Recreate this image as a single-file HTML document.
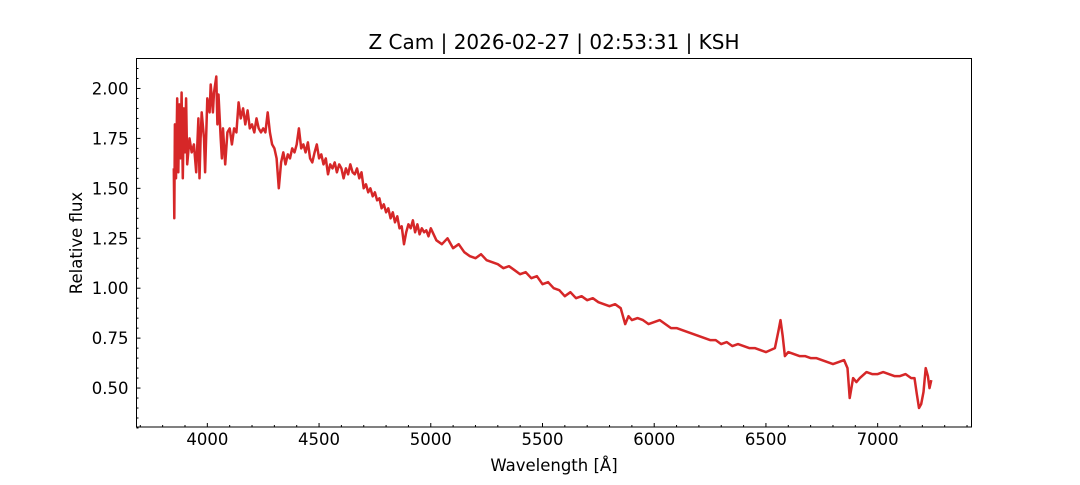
<!DOCTYPE html>
<html><head><meta charset="utf-8">
<style>
body{margin:0;background:#fff;}
svg text{font-family:"DejaVu Sans","Liberation Sans",sans-serif;fill:#000;}
</style></head>
<body>
<svg id="chart" width="1080" height="480" xmlns="http://www.w3.org/2000/svg">
<text x="554" y="49" font-size="20" text-anchor="middle">Z Cam | 2026-02-27 | 02:53:31 | KSH</text>
<g id="axes"></g>
<path id="line" fill="none" stroke="#d62728" stroke-width="2.5" stroke-linejoin="round"></path>
<rect x="136.5" y="58.5" width="835" height="368.5" fill="none" stroke="#000" stroke-width="1"/>
<text x="554" y="471" font-size="16.5" text-anchor="middle">Wavelength [Å]</text>
<text transform="translate(82,243) rotate(-90)" font-size="16.5" text-anchor="middle">Relative flux</text>
</svg>
<script>
const wavelengths=[3850,3852,3855,3860,3865,3870,3875,3880,3885,3890,3895,3900,3905,3910,3920,3930,3940,3950,3960,3965,3970,3975,3985,3990,4000,4010,4015,4025,4030,4040,4045,4050,4060,4065,4070,4080,4090,4100,4110,4120,4130,4140,4150,4160,4170,4180,4190,4200,4210,4220,4230,4240,4250,4260,4270,4280,4290,4300,4310,4320,4330,4340,4350,4360,4370,4380,4390,4400,4410,4420,4430,4440,4450,4460,4470,4480,4490,4500,4510,4520,4530,4540,4550,4560,4570,4580,4590,4600,4610,4620,4630,4640,4650,4660,4670,4680,4690,4700,4710,4720,4730,4740,4750,4760,4770,4780,4790,4800,4810,4820,4830,4840,4850,4860,4870,4880,4890,4900,4910,4920,4930,4940,4950,4960,4970,4980,4990,5000,5025,5050,5075,5100,5125,5150,5175,5200,5225,5250,5275,5300,5325,5350,5375,5400,5425,5450,5475,5500,5525,5550,5575,5600,5625,5650,5675,5700,5725,5750,5775,5800,5825,5850,5870,5885,5900,5925,5950,5975,6000,6025,6050,6075,6100,6125,6150,6175,6200,6225,6250,6275,6300,6325,6350,6375,6400,6425,6450,6475,6500,6520,6540,6555,6565,6575,6585,6600,6625,6650,6675,6700,6725,6750,6775,6800,6825,6850,6865,6875,6890,6905,6920,6950,6975,7000,7025,7050,7075,7100,7125,7150,7165,7175,7185,7195,7205,7215,7225,7232,7240];
const fluxes=[1.60,1.35,1.82,1.55,1.95,1.58,1.92,1.65,1.98,1.55,1.90,1.68,1.95,1.62,1.75,1.68,1.72,1.58,1.85,1.55,1.75,1.88,1.75,1.58,1.95,1.88,2.02,1.88,1.98,2.06,1.82,1.97,1.75,1.65,1.80,1.62,1.78,1.80,1.72,1.80,1.78,1.93,1.85,1.90,1.82,1.89,1.80,1.82,1.78,1.85,1.80,1.78,1.80,1.78,1.88,1.78,1.72,1.70,1.65,1.50,1.63,1.68,1.62,1.67,1.65,1.70,1.68,1.72,1.80,1.70,1.72,1.68,1.73,1.65,1.63,1.68,1.72,1.65,1.67,1.62,1.65,1.57,1.62,1.60,1.63,1.58,1.62,1.60,1.55,1.60,1.57,1.62,1.58,1.57,1.60,1.55,1.58,1.50,1.52,1.48,1.50,1.46,1.48,1.44,1.45,1.40,1.42,1.38,1.40,1.35,1.38,1.33,1.36,1.30,1.31,1.22,1.28,1.32,1.30,1.34,1.28,1.32,1.27,1.30,1.28,1.29,1.26,1.30,1.24,1.22,1.25,1.20,1.22,1.18,1.16,1.15,1.17,1.14,1.13,1.12,1.10,1.11,1.09,1.07,1.08,1.05,1.06,1.02,1.03,1.00,0.99,0.96,0.98,0.95,0.96,0.94,0.95,0.93,0.92,0.91,0.92,0.90,0.82,0.86,0.84,0.85,0.84,0.82,0.83,0.84,0.82,0.80,0.80,0.79,0.78,0.77,0.76,0.75,0.74,0.74,0.72,0.73,0.71,0.72,0.71,0.70,0.70,0.69,0.68,0.69,0.70,0.78,0.84,0.76,0.66,0.68,0.67,0.66,0.66,0.65,0.65,0.64,0.63,0.62,0.63,0.64,0.60,0.45,0.55,0.53,0.55,0.58,0.57,0.57,0.58,0.57,0.56,0.56,0.57,0.55,0.55,0.47,0.40,0.42,0.48,0.60,0.56,0.50,0.54];
const xTicks=[4000,4500,5000,5500,6000,6500,7000];
const yTicks=[0.50,0.75,1.00,1.25,1.50,1.75,2.00];
const X0=136.5,X1=971.5,Y0=58.5,Y1=427;
const xmin=3683,xmax=7420,ymin=0.305,ymax=2.15;
const xs=v=>X0+(v-xmin)/(xmax-xmin)*(X1-X0);
const ys=v=>Y1-(v-ymin)/(ymax-ymin)*(Y1-Y0);
const NS="http://www.w3.org/2000/svg";
const axes=document.getElementById('axes');
function mk(tag,attrs){const e=document.createElementNS(NS,tag);for(const k in attrs)e.setAttribute(k,attrs[k]);axes.appendChild(e);return e;}
for(let v=3700;v<=7400;v+=100){const x=xs(v);const major=v%500===0;
 const t=mk('line',{x1:x,x2:x,y1:Y1,y2:Y1-(major?4:2),stroke:'#000','stroke-width':1});
 
 }
for(let i=6;i<=43;i++){const v=i*0.05;const y=ys(v);const major=i%5===0;
 const t=mk('line',{x1:X0,x2:X0+(major?4:2),y1:y,y2:y,stroke:'#000','stroke-width':1});
 
 }
xTicks.forEach(v=>{const t=mk('text',{x:xs(v),y:Y1+18,'font-size':16.5,'text-anchor':'middle'});t.textContent=v;
 
 });
yTicks.forEach(v=>{const t=mk('text',{x:X0-8,y:ys(v)+6,'font-size':16.5,'text-anchor':'end'});t.textContent=v.toFixed(2);
 
 });
document.getElementById('line').setAttribute('d',wavelengths.map((w,i)=>(i?'L':'M')+xs(w).toFixed(1)+','+ys(fluxes[i]).toFixed(1)).join(''));
</script>
</body></html>
